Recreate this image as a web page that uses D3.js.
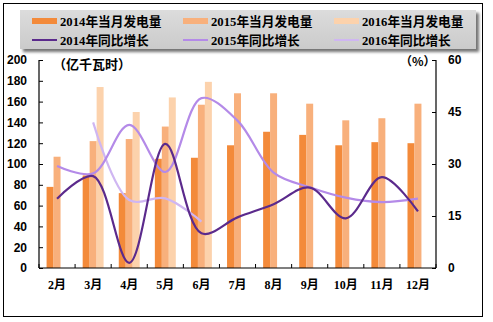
<!DOCTYPE html>
<html>
<head>
<meta charset="utf-8">
<script src="https://cdn.jsdelivr.net/npm/d3@7"></script>
<style>
  html, body { margin: 0; padding: 0; background: #fff; }
  svg { display: block; }
</style>
</head>
<body>
<svg id="chart" width="493" height="322"></svg>
<script>
// Monthly generation (亿千瓦时) and year-on-year growth (%)
const months = ["2月", "3月", "4月", "5月", "6月", "7月", "8月", "9月", "10月", "11月", "12月"];
const gen2014 = [78, 89, 72, 105, 106, 118, 131, 128, 118, 121, 120];
const gen2015 = [107, 122, 124, 136, 157, 168, 168, 158, 142, 144, 158];
const gen2016 = [null, 174, 150, 164, 179, null, null, null, null, null, null];
const growth2014 = [20, 26.5, 1.5, 35.8, 10, 14.6, 18.4, 23.2, 14.3, 26.2, 16.3];
const growth2015 = [29.4, 27.3, 41.3, 27.7, 49, 42.5, 27.5, 23.3, 20.3, 19, 20];
const growth2016 = [null, 42, 19.6, 20.1, 13.4, null, null, null, null, null, null];
const leftTicks = [0, 20, 40, 60, 80, 100, 120, 140, 160, 180, 200];
const rightTicks = [0, 15, 30, 45, 60];

const barSeries = [
  { name: "2014年当月发电量", values: gen2014, color: "#f38a3a" },
  { name: "2015年当月发电量", values: gen2015, color: "#f8b07c" },
  { name: "2016年当月发电量", values: gen2016, color: "#fcd2ac" }
];
const lineSeries = [
  { name: "2014年同比增长", values: growth2014, color: "#5b2a8c" },
  { name: "2015年同比增长", values: growth2015, color: "#b48ae8" },
  { name: "2016年同比增长", values: growth2016, color: "#cfb6f2" }
];

const svg = d3.select("#chart");
const plot = { left: 39, right: 436, top: 60, bottom: 268 };

const numFont = "'Liberation Sans', Arial, sans-serif";
const cjkFont = "'Liberation Serif', 'Noto Sans CJK SC', serif";

// outer frame
svg.append("rect")
  .attr("x", 3.5).attr("y", 3.5).attr("width", 479).attr("height", 313)
  .attr("fill", "#fff").attr("stroke", "#000").attr("stroke-width", 1);

// scales
const x = d3.scaleBand().domain(months).range([plot.left, plot.right]).padding(0);
const bw = x.bandwidth();
const xi = d3.scaleBand().domain(d3.range(3)).range([bw * 0.21, bw * 0.79]).padding(0);
const yL = d3.scaleLinear().domain([0, 200]).range([plot.bottom, plot.top]);
const yR = d3.scaleLinear().domain([0, 60]).range([plot.bottom, plot.top]);

// bars
barSeries.forEach((s, si) => {
  svg.append("g").selectAll("rect")
    .data(months.map((m, i) => ({ m, v: s.values[i] })).filter(d => d.v != null))
    .join("rect")
    .attr("x", d => x(d.m) + xi(si))
    .attr("width", xi.bandwidth())
    .attr("y", d => yL(d.v))
    .attr("height", d => yL(0) - yL(d.v))
    .attr("fill", s.color);
});

// smoothed growth lines
const line = d3.line()
  .defined(d => d.v != null)
  .x(d => x(d.m) + bw / 2)
  .y(d => yR(d.v))
  .curve(d3.curveCatmullRom.alpha(0.5));

lineSeries.slice().reverse().forEach(s => {
  svg.append("path")
    .datum(months.map((m, i) => ({ m, v: s.values[i] })))
    .attr("d", line)
    .attr("fill", "none")
    .attr("stroke", s.color)
    .attr("stroke-width", 2.2);
});

// axes
const axL = d3.axisLeft(yL).tickValues(leftTicks).tickSize(-4).tickPadding(12).tickFormat(d3.format("d"));
const gL = svg.append("g").attr("transform", `translate(${plot.left},0)`).call(axL);
const axR = d3.axisRight(yR).tickValues(rightTicks).tickSize(-4).tickPadding(12).tickFormat(d3.format("d"));
const gR = svg.append("g").attr("transform", `translate(${plot.right},0)`).call(axR);
const axB = d3.axisBottom(x).tickSize(0).tickPadding(12);
const gB = svg.append("g").attr("transform", `translate(0,${plot.bottom})`).call(axB);

// band-boundary ticks on the category axis, pointing up
gB.append("g").selectAll("line")
  .data(d3.range(months.length + 1))
  .join("line")
  .attr("x1", i => plot.left + i * bw).attr("x2", i => plot.left + i * bw)
  .attr("y1", 0).attr("y2", -4)
  .attr("stroke", "#000");

[gL, gR, gB].forEach(g => {
  g.select(".domain").attr("stroke", "#000").attr("stroke-width", 1.2);
  g.selectAll(".tick line").attr("stroke", "#000");
  g.selectAll("text")
    .attr("fill", "#000")
    .style("font-family", numFont)
    .style("font-weight", "bold")
    .style("font-size", "12px");
});
gL.select(".domain").attr("d", `M-0,${plot.top}V${plot.bottom}`);
gR.select(".domain").attr("d", `M0,${plot.top}V${plot.bottom}`);
gB.select(".domain").attr("d", `M${plot.left},0H${plot.right}`);
gL.selectAll("text").attr("x", -12);
gR.selectAll("text").attr("x", 12);
gB.selectAll(".tick text").style("font-family", cjkFont).attr("dy", "0.71em").attr("y", 12);

// unit labels
svg.append("text").attr("x", 53).attr("y", 69)
  .text("（亿千瓦时）")
  .style("font-family", "'Noto Sans CJK SC', sans-serif")
  .style("font-weight", "bold").style("font-size", "13px");
svg.append("text").attr("x", 400).attr("y", 66)
  .text("（%）")
  .style("font-family", "'Noto Sans CJK SC', sans-serif")
  .style("font-weight", "bold").style("font-size", "12px");

// legend panel
const defs = svg.append("defs");
const grad = defs.append("linearGradient").attr("id", "lg").attr("x1", 0).attr("y1", 0).attr("x2", 0).attr("y2", 1);
grad.append("stop").attr("offset", "0%").attr("stop-color", "#dcdcdc");
grad.append("stop").attr("offset", "100%").attr("stop-color", "#cbcbcb");
const shadow = defs.append("filter").attr("id", "sh").attr("x", "-5%").attr("y", "-20%").attr("width", "110%").attr("height", "150%");
shadow.append("feGaussianBlur").attr("in", "SourceAlpha").attr("stdDeviation", 1.5).attr("result", "b");
shadow.append("feOffset").attr("in", "b").attr("dx", 3).attr("dy", 3).attr("result", "o");
shadow.append("feComponentTransfer").attr("in", "o").attr("result", "s")
  .append("feFuncA").attr("type", "linear").attr("slope", 0.55);
const fm = shadow.append("feMerge");
fm.append("feMergeNode").attr("in", "s");
fm.append("feMergeNode").attr("in", "SourceGraphic");

svg.append("rect")
  .attr("x", 20).attr("y", 10).attr("width", 456).attr("height", 39)
  .attr("fill", "url(#lg)").attr("filter", "url(#sh)");

const legend = svg.append("g");
const colX = [32, 183, 334];
barSeries.forEach((s, i) => {
  const g = legend.append("g").attr("transform", `translate(${colX[i]},21)`);
  g.append("rect").attr("x", 0).attr("y", -3).attr("width", 25).attr("height", 6).attr("fill", s.color);
  g.append("text").attr("x", 28).attr("y", 4.5).text(s.name)
    .style("font-family", cjkFont).style("font-weight", "bold").style("font-size", "12.7px");
});
lineSeries.forEach((s, i) => {
  const g = legend.append("g").attr("transform", `translate(${colX[i]},40)`);
  g.append("line").attr("x1", 0).attr("x2", 25).attr("y1", 0).attr("y2", 0)
    .attr("stroke", s.color).attr("stroke-width", 2);
  g.append("text").attr("x", 28).attr("y", 4.5).text(s.name)
    .style("font-family", cjkFont).style("font-weight", "bold").style("font-size", "12.7px");
});
</script>
</body>
</html>
